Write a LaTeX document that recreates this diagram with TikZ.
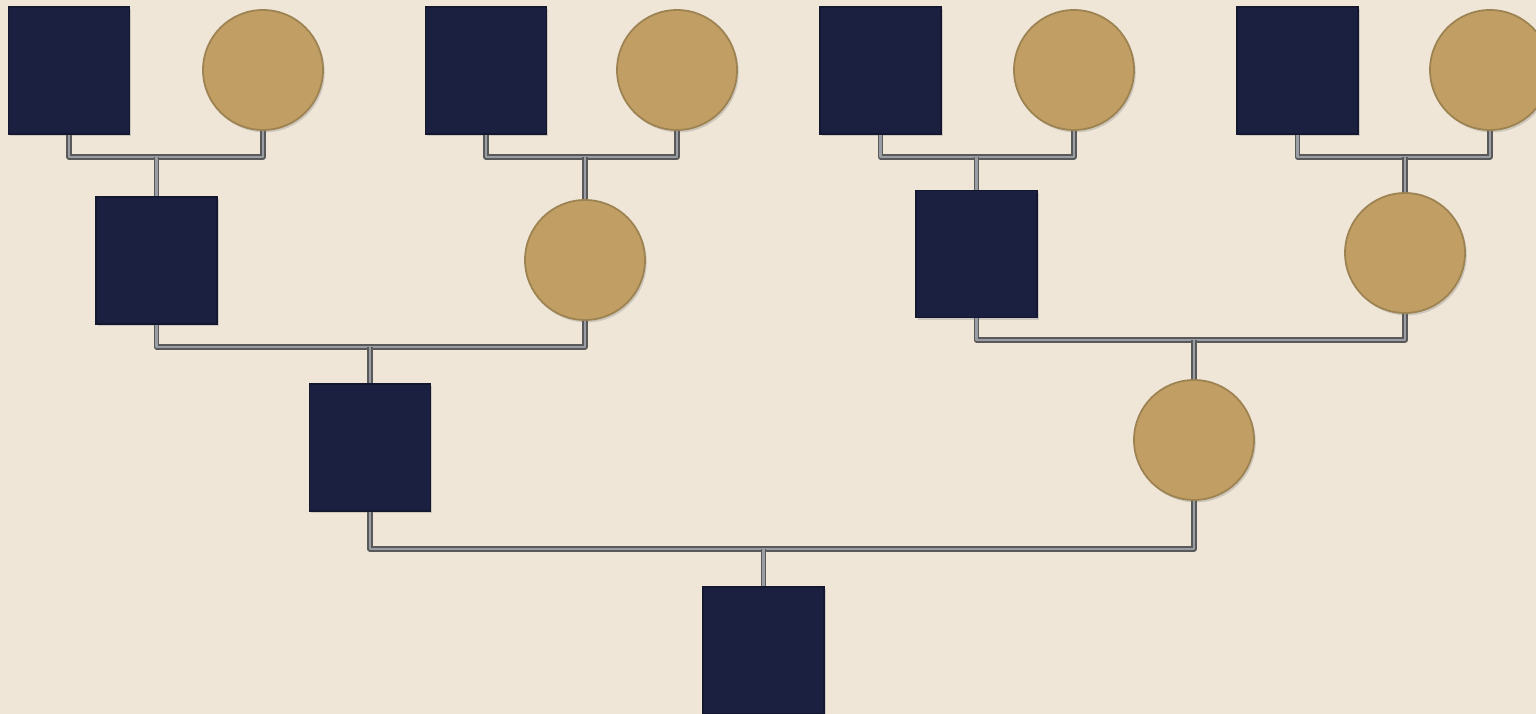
\documentclass[tikz,border=0pt]{standalone}
\usetikzlibrary{shadows}
\definecolor{paper}{HTML}{EFE6D8}
\definecolor{navy}{HTML}{1B1F40}
\definecolor{tan}{HTML}{C09E64}
\definecolor{wire}{HTML}{9A9DA3}
\begin{document}
\begin{tikzpicture}[
    male/.style={rectangle, fill=navy, draw=navy!75!black, line width=0.5pt,
        minimum width=1.21cm, minimum height=1.27cm, inner sep=0pt,
        drop shadow={opacity=0.3, shadow xshift=0.5pt, shadow yshift=-0.7pt}},
    female/.style={circle, fill=tan, draw=tan!82!black, line width=0.5pt,
        minimum size=1.20cm, inner sep=0pt,
        drop shadow={opacity=0.3, shadow xshift=0.5pt, shadow yshift=-0.7pt}},
    link/.style={draw=black!65, double=wire, double distance=0.75pt,
        line width=0.35pt, line join=round}]
        \fill[paper] (0,0) rectangle (15.36,-7.14);
        \useasboundingbox (0,0) rectangle (15.36,-7.14);
        % great-grandparents
        \node[male] (f1) at (0.69, -0.705) {};
        \node[female] (m1) at (2.63, -0.70) {};
        \node[male] (f2) at (4.86, -0.705) {};
        \node[female] (m2) at (6.77, -0.70) {};
        \node[male] (f3) at (8.805, -0.705) {};
        \node[female] (m3) at (10.74, -0.70) {};
        \node[male] (f4) at (12.975, -0.705) {};
        \node[female] (m4) at (14.90, -0.70) {};
        % grandparents
        \node[male] (g1) at (1.565, -2.605) {};
        \node[female] (g2) at (5.85, -2.60) {};
        \node[male] (g3) at (9.765, -2.54) {};
        \node[female] (g4) at (14.05, -2.53) {};
        % parents
        \node[male] (p1) at (3.70, -4.475) {};
        \node[female] (p2) at (11.94, -4.40) {};
        % proband
        \node[male] (c) at (7.635, -6.505) {};
        \coordinate (b1) at (g1 |- 0,-1.57);
        \coordinate (b2) at (g2 |- 0,-1.57);
        \coordinate (b3) at (g3 |- 0,-1.57);
        \coordinate (b4) at (g4 |- 0,-1.57);
        \coordinate (b5) at (p1 |- 0,-3.47);
        \coordinate (b6) at (p2 |- 0,-3.40);
        \coordinate (b7) at (c |- 0,-5.49);
        \draw[link] (f1.south) |- (b1) -| (m1.south);
        \draw[link] (b1) -- (g1.north);
        \draw[link] (f2.south) |- (b2) -| (m2.south);
        \draw[link] (b2) -- (g2.north);
        \draw[link] (f3.south) |- (b3) -| (m3.south);
        \draw[link] (b3) -- (g3.north);
        \draw[link] (f4.south) |- (b4) -| (m4.south);
        \draw[link] (b4) -- (g4.north);
        \draw[link] (g1.south) |- (b5) -| (g2.south);
        \draw[link] (b5) -- (p1.north);
        \draw[link] (g3.south) |- (b6) -| (g4.south);
        \draw[link] (b6) -- (p2.north);
        \draw[link] (p1.south) |- (b7) -| (p2.south);
        \draw[link] (b7) -- (c.north);
        \end{tikzpicture}
\end{document}
